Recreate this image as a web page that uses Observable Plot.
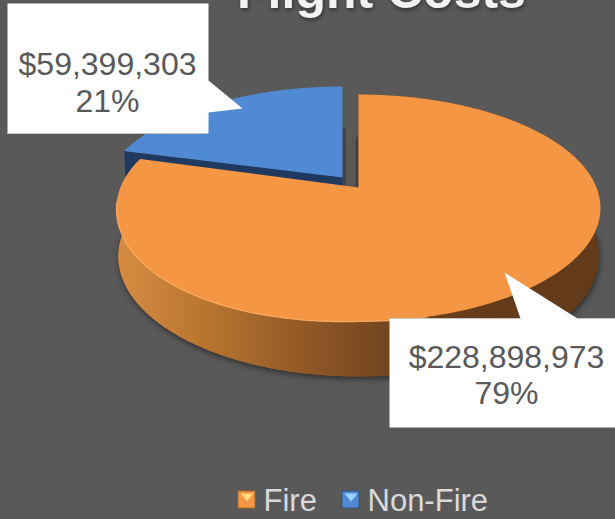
<!DOCTYPE html>
<html><head><meta charset="utf-8">
<script src="https://cdn.jsdelivr.net/npm/d3@7"></script>
<script src="https://cdn.jsdelivr.net/npm/@observablehq/plot@0.6"></script>
<style>html,body{margin:0;padding:0;background:#595959;overflow:hidden}svg{display:block}</style>
</head><body><div id="chart"></div>
<script>
const categories = ["Fire", "Non-Fire"];
const costs = [228898973, 59399303];
const titleText = "Flight Costs";

const W = 615, H = 519, FONT = "Liberation Sans, Arial, sans-serif";
const TEXT = "#595959";
const faceColors = {"Fire": "#f59645", "Non-Fire": "#508ad4"};
const wallColors = {"Non-Fire": "#1f3a5e"};
const pieces = d3.pie().sort(null).value(d => d)(costs);

function plane(far, tip, near, cx, R, bulge = 0) {
  const c = (near + far - 2 * tip) / (near - far);
  const a = far * (1 + c) - tip;
  return th => {
    const u = Math.sin(th), v = Math.cos(th), d = 1 + c * v;
    return {x: cx + R * u / d, y: (a * v + tip) / d + bulge * Math.max(0, -u) * Math.max(0, -v)};
  };
}
const topP = plane(94, 187, 321, 358, 238, 8);
const botP = plane(136, 234, 376, 358, 236);
const blueOff = {dx: -16, dy: -8};
const blueTipLift = 2;
function arc(P, a0, a1, off = {dx: 0, dy: 0}) {
  const n = Math.max(2, Math.ceil(Math.abs(a1 - a0) / 0.01)), pts = [];
  for (let i = 0; i <= n; i++) {
    const p = P(a0 + (a1 - a0) * i / n);
    pts.push({x: p.x + off.dx, y: p.y + off.dy});
  }
  return pts;
}
function centerOf(P) {
  const a = P(Math.PI / 2), b = P(-Math.PI / 2);
  return {x: (a.x + b.x) / 2, y: (a.y + b.y) / 2};
}
function sector(P, a0, a1, off = {dx: 0, dy: 0}, lift = 0) {
  const c = centerOf(P), m = {x: c.x + off.dx, y: c.y + off.dy - lift};
  return [m, ...arc(P, a0, a1, off), m];
}
const [fire, non] = pieces;
const fireFace = sector(topP, fire.startAngle, fire.endAngle);
const fireBot = sector(botP, fire.startAngle, fire.endAngle);
const fireWall = [...arc(topP, fire.startAngle, fire.endAngle), ...arc(botP, fire.startAngle, fire.endAngle).reverse()];
const nonFace = sector(topP, non.startAngle, non.endAngle, blueOff, blueTipLift);
const nonBot = sector(botP, non.startAngle, non.endAngle, blueOff);
const nonCut = [nonFace[0], nonFace[1], nonBot[1], nonBot[0]];
const rimNear = arc(topP, fire.startAngle, fire.endAngle).filter(p => p.x < 430 && p.y > 200);

const poly = (data, o) => Plot.line(data, {x: "x", y: "y", curve: "linear", stroke: "none", ...o});
const fmtMoney = d3.format("$,"), total = d3.sum(costs), fmtPct = d3.format(".0%");

const boxNon = [{x:7,y:3},{x:208,y:3},{x:208,y:80},{x:242,y:108},{x:208,y:112},{x:208,y:133},{x:7,y:133}];
const boxFire = [{x:389,y:318},{x:520,y:318},{x:504,y:272},{x:577,y:318},{x:615,y:318},{x:615,y:427},{x:389,y:427}];
const boxEdges = [{x1:7,x2:208,y:133},{x1:389,x2:520,y:318},{x1:577,x2:615,y:318}];
const labelPos = [{cx:506,y1:367,y2:403},{cx:107,y1:74,y2:111}];
const legendX = [{sw:238,tx:263},{sw:342,tx:367}];
const legendBase = 510, swTop = 491, swSize = 17;
const gapShadows = [{x1:343,x2:346,y1:128,y2:186},{x1:356,x2:358,y1:137,y2:187}];

const labelRows = categories.flatMap((c, i) => [
  {t: fmtMoney(costs[i]), x: labelPos[i].cx, y: labelPos[i].y1},
  {t: fmtPct(costs[i] / total), x: labelPos[i].cx, y: labelPos[i].y2}
]);
const swatchDark = {"Fire": "#a8672a", "Non-Fire": "#2c5282"};
const swatchLight = {"Fire": "#ffd77f", "Non-Fire": "#9cd0ff"};

const grad = () => {
  const d = d3.create("svg:defs");
  d.html(`<linearGradient id="wallG" gradientUnits="userSpaceOnUse" x1="117" x2="600" y1="0" y2="0">
    <stop offset="0" stop-color="#d68c42"/><stop offset="0.18" stop-color="#b9752f"/>
    <stop offset="0.4" stop-color="#8f5726"/><stop offset="0.55" stop-color="#74461f"/>
    <stop offset="0.75" stop-color="#653c1a"/><stop offset="1" stop-color="#633b1a"/></linearGradient>`);
  return d.node();
};

const plot = Plot.plot({
  width: W, height: H, margin: 0,
  x: {domain: [0, W], range: [0, W], axis: null},
  y: {domain: [0, H], range: [0, H], axis: null},
  style: {background: "#595959", fontFamily: FONT},
  marks: [
    grad,
    Plot.rect(gapShadows, {x1: "x1", x2: "x2", y1: "y1", y2: "y2", fill: "#454545", imageFilter: "blur(0.6px)"}),
    poly(nonBot, {fill: wallColors["Non-Fire"]}),
    poly(nonCut, {fill: wallColors["Non-Fire"]}),
    poly(nonFace, {fill: faceColors["Non-Fire"]}),
    poly(fireBot, {fill: "url(#wallG)", imageFilter: "drop-shadow(1px 2px 3px rgba(0,0,0,.55))"}),
    poly(fireWall, {fill: "url(#wallG)"}),
    poly(fireFace, {fill: faceColors["Fire"]}),
    Plot.line(rimNear, {x: "x", y: "y", stroke: "#ffb066", strokeWidth: 1.2, strokeOpacity: 0.85}),
    poly(boxNon, {fill: "white"}),
    poly(boxFire, {fill: "white"}),
    Plot.ruleY(boxEdges, {x1: "x1", x2: "x2", y: "y", stroke: "#c4c4c4", strokeWidth: 1}),
    Plot.text(labelRows, {x: "x", y: "y", text: "t", fill: TEXT, fontSize: 32, textAnchor: "middle", lineAnchor: "bottom"}),
    Plot.text([titleText], {x: [381], y: [7], text: d => d, fill: "#f2f2f2", fontSize: 50, fontWeight: 700, textAnchor: "middle", lineAnchor: "bottom", imageFilter: "drop-shadow(1px 2px 2px rgba(0,0,0,.45))"}),
    Plot.rect(categories.map((c, i) => ({c, x1: legendX[i].sw, x2: legendX[i].sw + swSize})), {x1: "x1", x2: "x2", y1: swTop, y2: swTop + swSize, fill: d => faceColors[d.c], stroke: d => swatchDark[d.c], strokeWidth: 1}),
    ...categories.map((c, i) => poly([{x: legendX[i].sw + 2, y: swTop + 2}, {x: legendX[i].sw + swSize - 2, y: swTop + 2}, {x: legendX[i].sw + swSize / 2, y: swTop + 10}], {fill: swatchLight[c]})),
    Plot.text(categories.map((c, i) => ({c, x: legendX[i].tx})), {x: "x", y: legendBase, text: "c", fill: "#d9d9d9", fontSize: 31, textAnchor: "start", lineAnchor: "bottom"})
  ]
});
document.getElementById("chart").append(plot);
</script></body></html>
